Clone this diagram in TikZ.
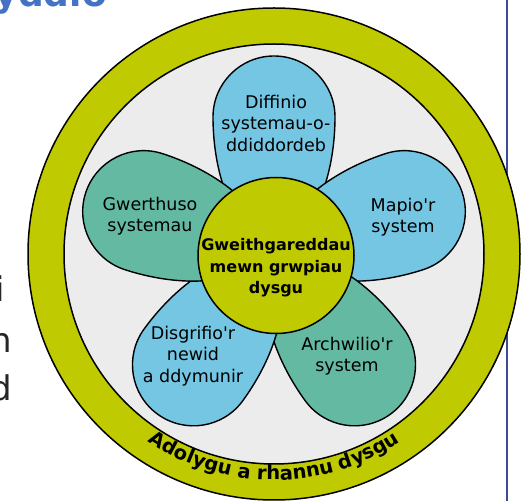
\documentclass[tikz,border=0pt]{standalone}
\usepackage{fontspec}
\setmainfont{DejaVu Sans}
\usetikzlibrary{decorations.text}
\definecolor{ringyellow}{HTML}{BFCA00}
\definecolor{innergray}{HTML}{ECECEC}
\definecolor{petalblue}{HTML}{74C6E3}
\definecolor{petalteal}{HTML}{64B9A2}
\definecolor{rulecol}{HTML}{3B4A96}
\definecolor{headblue}{HTML}{4472C4}
\tikzset{
  ringdisc/.style={circle, draw=black, line width=1.5pt, inner sep=0pt, outer sep=0pt},
  petalshape/.style={draw=black, line width=1.4pt},
  petaltext/.style={align=center, font=\fontsize{17.5}{21.5}\selectfont, text=black, inner sep=0pt},
  hubtext/.style={align=center, font=\bfseries\fontsize{16}{21.5}\selectfont, text=black, inner sep=0pt},
  sidetext/.style={anchor=base east, font=\fontsize{34}{40}\selectfont, text=black!85, inner sep=0pt},
}
\begin{document}
\begin{tikzpicture}[x=1pt,y=1pt]
\useasboundingbox (0,0) rectangle (531,501);
\coordinate (C) at (274,247);
\coordinate (rtop) at (506.5,501);
\coordinate (rbot) at (506.5,0);
\draw[rulecol, line width=2pt] (rtop) -- (rbot);
\node[ringdisc, fill=ringyellow, minimum size=492pt] (outer) at (C) {};
\node[ringdisc, fill=innergray, minimum size=420pt] (inner) at (C) {};
\foreach \rot/\col in {0/petalblue, -72/petalblue, -144/petalteal, 144/petalblue, 72/petalteal}{
  \draw[petalshape, fill=\col, shift={(C)}, rotate=\rot]
    (0,0) .. controls (50,30) and (61,95) .. (61,137)
    arc[start angle=0, end angle=180, radius=61]
    .. controls (-61,95) and (-50,30) .. (0,0) -- cycle;
}
\node[ringdisc, fill=ringyellow, minimum size=156pt] (hub) at (276,245.5) {};
\node[hubtext] (hubt) at (276,233) {Gweithgareddau\\mewn grwpiau\\dysgu};
\node[petaltext] (p1) at (276,378) {Diffinio\\systemau-o-\\ddiddordeb};
\node[petaltext] (p2) at (403,284) {Mapio\textquotesingle r\\system};
\node[petaltext] (p3) at (347,145) {Archwilio\textquotesingle r\\system};
\node[petaltext] (p4) at (193,145) {Disgrifio\textquotesingle r\\newid\\a ddymunir};
\node[petaltext] (p5) at (150,285) {Gwerthuso\\systemau};
\path[decorate, decoration={text along path, text align=center,
  text={|\bfseries\fontsize{19.5}{20}\selectfont|Adolygu a rhannu dysgu}}]
  (C) ++(225:226) arc[start angle=225, end angle=315, radius=226];
\node[sidetext] (s1) at (5,199) {i};
\node[sidetext] (s2) at (12,148) {n};
\node[sidetext] (s3) at (12,100) {d};
\node[anchor=base east, font=\bfseries\fontsize{36}{40}\selectfont, text=headblue, inner sep=0pt] (head) at (107,494) {yddio};
\end{tikzpicture}
\end{document}
